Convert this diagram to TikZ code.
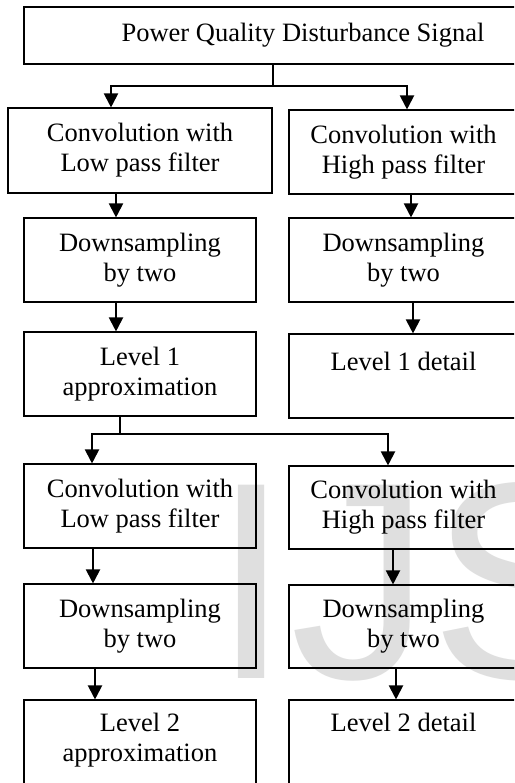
\documentclass[tikz,border=0pt]{standalone}
\usepackage{fontspec}
\setmainfont{Liberation Serif}
\newfontfamily\wmfont{Liberation Sans}
\usetikzlibrary{arrows.meta}
\begin{document}
\begin{tikzpicture}[x=1pt,y=-1pt,
  blk/.style={draw=black, line width=1.1pt, rectangle, inner sep=0pt, align=center, font=\fontsize{26.5}{30}\selectfont},
  txt/.style={inner sep=0pt, align=center, font=\fontsize{26.5}{30}\selectfont},
  lw/.style={minimum width=232pt, minimum height=84pt},
  rw/.style={minimum width=229pt, minimum height=84pt},
  conn/.style={line width=2pt},
  arr/.style={conn, -{Triangle[width=14pt,length=14pt]}},
  wm/.style={anchor=base west, inner sep=0pt, text=gray!25, font=\wmfont\fontsize{281}{281}\selectfont}]
\useasboundingbox (0,0) rectangle (514,783);
\clip (0,0) rectangle (514,783);
\fill[white] (0,0) rectangle (514,783);
% watermark
\node[wm] (wmark) at (212,678) {IJS};
% boxes
\node[blk, minimum width=558pt, minimum height=57pt] (top) at (303,35.5) {Power Quality Disturbance Signal};
\node[blk, minimum width=264pt, minimum height=85pt] (L1) at (140,150.5) {Convolution with\\Low pass filter};
\node[blk, rw] (R1) at (403.5,152) {Convolution with\\High pass filter};
\node[blk, lw] (L2) at (140,260) {Downsampling\\by two};
\node[blk, rw] (R2) at (403.5,260) {Downsampling\\by two};
\node[blk, lw] (L3) at (140,374) {Level 1\\approximation};
\node[blk, rw] (R3) at (403.5,376) {Level 1 detail\\\mbox{}};
\node[blk, lw] (L4) at (140,506) {Convolution with\\Low pass filter};
\node[blk, rw, minimum height=83pt] (R4) at (403.5,507.5) {Convolution with\\High pass filter};
\node[blk, lw] (L5) at (140,626) {Downsampling\\by two};
\node[blk, rw, minimum height=83pt] (R5) at (403.5,626.5) {Downsampling\\by two};
\node[blk, lw, minimum height=90pt] (L6) at (140,745) {};
\node[blk, rw, minimum height=90pt] (R6) at (403.5,745) {};
\node[txt, anchor=north] (L6t) at (140,712.5) {Level 2\\approximation};
\node[txt, anchor=north] (R6t) at (403.5,712.5) {Level 2 detail};
% first split
\coordinate (j1) at (273,86);
\draw[conn] (top.south -| j1) -- (j1);
\draw[arr] (j1) -| ([xshift=-29pt]L1.north);
\draw[arr] (j1) -| ([xshift=3.5pt]R1.north);
% level 1 chains
\draw[arr] ([xshift=-24pt]L1.south) -- ([xshift=-24pt]L2.north);
\draw[arr] ([xshift=7.5pt]R1.south) -- ([xshift=7.5pt]R2.north);
\draw[arr] ([xshift=-24pt]L2.south) -- ([xshift=-24pt]L3.north);
\draw[arr] ([xshift=9.5pt]R2.south) -- ([xshift=9.5pt]R3.north);
% second split
\coordinate (j2) at (120,434);
\draw[conn] (L3.south -| j2) -- (j2);
\draw[arr] (j2) -| ([xshift=-48pt]L4.north);
\draw[arr] (j2) -| ([xshift=-15.5pt]R4.north);
% level 2 chains
\draw[arr] ([xshift=-47pt]L4.south) -- ([xshift=-47pt]L5.north);
\draw[arr] ([xshift=-10.5pt]R4.south) -- ([xshift=-10.5pt]R5.north);
\draw[arr] ([xshift=-45pt]L5.south) -- ([xshift=-45pt]L6.north);
\draw[arr] ([xshift=-7.5pt]R5.south) -- ([xshift=-7.5pt]R6.north);
\end{tikzpicture}
\end{document}
